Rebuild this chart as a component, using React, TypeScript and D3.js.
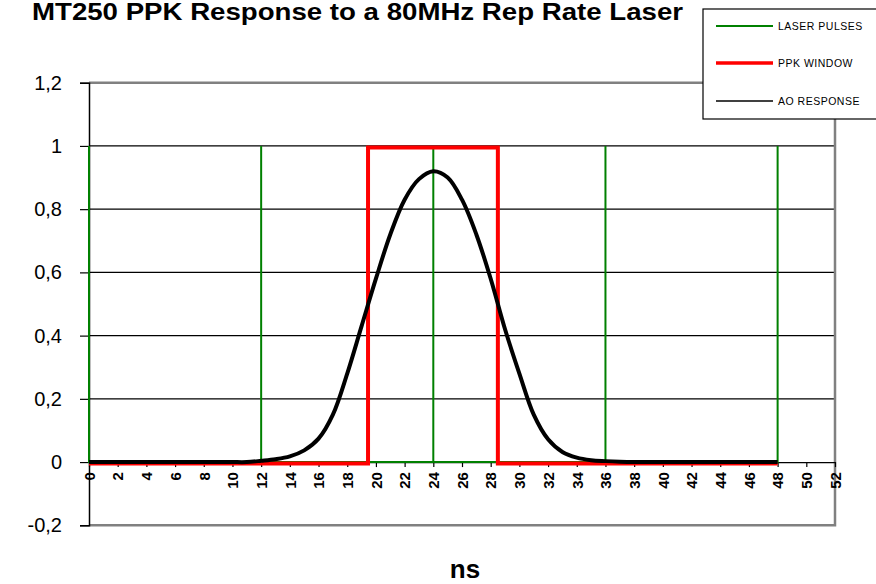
import { useEffect, useRef } from 'react';
import * as d3 from 'd3';

const title = 'MT250 PPK Response to a 80MHz Rep Rate Laser';
const xTitle = 'ns';

const xTicks = [0, 2, 4, 6, 8, 10, 12, 14, 16, 18, 20, 22, 24, 26, 28, 30, 32, 34, 36, 38, 40, 42, 44, 46, 48, 50, 52];
const yTicks = [-0.2, 0, 0.2, 0.4, 0.6, 0.8, 1, 1.2];
const yTickLabels = ['-0,2', '0', '0,2', '0,4', '0,6', '0,8', '1', '1,2'];

// laser pulses: spikes every 12 ns
const laserX = [0, 0, 12, 12, 12, 24, 24, 24, 36, 36, 36, 48, 48, 48];
const laserY = [1, 0, 0, 1, 0, 0, 1, 0, 0, 1, 0, 0, 1, 0];

// PPK window
const ppkX = [0, 19.45, 19.45, 28.5, 28.5, 48];
const ppkY = [0, 0, 1, 1, 0, 0];

// AO response
const aoX = [0, 1, 2, 3, 4, 5, 6, 7, 8, 9, 10, 11, 12, 13, 14, 15, 16, 17, 18, 19, 20, 21, 22, 23, 24,
  25, 26, 27, 28, 29, 30, 31, 32, 33, 34, 35, 36, 37, 38, 39, 40, 41, 42, 43, 44, 45, 46, 47, 48];
const aoY = [0, 0, 0, 0, 0, 0, 0, 0, 0, 0, 0, 0, 0.004, 0.009, 0.018, 0.037, 0.074, 0.15, 0.28, 0.43, 0.58, 0.72, 0.83, 0.895, 0.92,
  0.9, 0.83, 0.72, 0.58, 0.42, 0.28, 0.15, 0.072, 0.032, 0.014, 0.006, 0.003, 0.001, 0, 0, 0, 0, 0, 0, 0, 0, 0, 0, 0];

const legendItems = [
  { label: 'LASER PULSES', color: '#008000', width: 2 },
  { label: 'PPK WINDOW', color: '#ff0000', width: 3.5 },
  { label: 'AO RESPONSE', color: '#000000', width: 1.5 },
];

const App = () => {
  const ref = useRef<SVGSVGElement>(null);

  useEffect(() => {
    const width = 876;
    const height = 584;
    const svg = d3.select(ref.current);
    svg.selectAll('*').remove();
    svg.attr('width', width).attr('height', height);

    const left = 89;
    const right = 835;
    const top = 82.7;
    const bottom = 525.3;

    const x = d3.scaleLinear().domain([0, 52]).range([left, right]);
    const y = d3.scaleLinear().domain([-0.2, 1.2]).range([bottom, top]);
    const font = "'Liberation Sans', Arial, sans-serif";

    svg.append('rect').attr('width', width).attr('height', height).attr('fill', '#fff');

    // title
    svg.append('text')
      .attr('x', 32)
      .attr('y', 20)
      .attr('textLength', 651)
      .attr('lengthAdjust', 'spacingAndGlyphs')
      .attr('font-family', font)
      .attr('font-size', 23)
      .attr('font-weight', 'bold')
      .text(title);

    // grid lines
    svg.append('g')
      .selectAll('line')
      .data(yTicks.filter((d) => d > 0 && d < 1.2))
      .enter()
      .append('line')
      .attr('x1', left)
      .attr('x2', right)
      .attr('y1', (d) => y(d))
      .attr('y2', (d) => y(d))
      .attr('stroke', '#000')
      .attr('stroke-width', 1.2);

    // gray frame
    svg.append('path')
      .attr('d', `M${left},${top}H${right}V${bottom}H${left}`)
      .attr('fill', 'none')
      .attr('stroke', '#808080')
      .attr('stroke-width', 2.5);

    // y axis
    const yAxis = svg.append('g')
      .attr('transform', `translate(${left},0)`)
      .call(
        d3.axisLeft(y)
          .tickValues(yTicks)
          .tickSize(9)
          .tickPadding(18)
          .tickFormat((d, i) => yTickLabels[i])
      );
    yAxis.select('.domain').attr('stroke', '#000').attr('stroke-width', 1.5);
    yAxis.selectAll('line').attr('stroke-width', 1.2);
    yAxis.selectAll('text')
      .attr('font-family', font)
      .attr('font-size', 20)
      .attr('fill', '#000');

    // x axis at zero
    const xAxis = svg.append('g')
      .attr('transform', `translate(0,${y(0)})`)
      .call(d3.axisBottom(x).tickValues(xTicks).tickSize(5).tickSizeOuter(0));
    xAxis.select('.domain').attr('stroke', '#000').attr('stroke-width', 1.2);
    xAxis.selectAll('line').attr('stroke-width', 1.2);
    xAxis.selectAll('text')
      .attr('font-family', font)
      .attr('font-size', 15)
      .attr('font-weight', 'bold')
      .attr('fill', '#000')
      .attr('text-anchor', 'end')
      .attr('dy', '0.35em')
      .attr('y', 0)
      .attr('transform', 'translate(0,10) rotate(-90)');

    const line = d3.line<[number, number]>().x((d) => x(d[0])).y((d) => y(d[1]));

    // laser pulses
    svg.append('path')
      .datum(laserX.map((v, i) => [v, laserY[i]] as [number, number]))
      .attr('d', line)
      .attr('fill', 'none')
      .attr('stroke', '#008000')
      .attr('stroke-width', 2);

    // PPK window
    svg.append('path')
      .datum(ppkX.map((v, i) => [v, ppkY[i]] as [number, number]))
      .attr('d', line)
      .attr('fill', 'none')
      .attr('stroke', '#ff0000')
      .attr('stroke-width', 4)
      .attr('transform', 'translate(0,1.5)');

    // AO response
    const smooth = d3.line<[number, number]>()
      .x((d) => x(d[0]))
      .y((d) => y(d[1]))
      .curve(d3.curveCatmullRom);
    svg.append('path')
      .datum(aoX.map((v, i) => [v, aoY[i]] as [number, number]))
      .attr('d', smooth)
      .attr('fill', 'none')
      .attr('stroke', '#000')
      .attr('stroke-width', 4);

    // axis title
    svg.append('text')
      .attr('x', 465)
      .attr('y', 578)
      .attr('text-anchor', 'middle')
      .attr('font-family', font)
      .attr('font-size', 26)
      .attr('font-weight', 'bold')
      .text(xTitle);

    // legend
    const lg = svg.append('g');
    lg.append('rect')
      .attr('x', 703)
      .attr('y', 9)
      .attr('width', 180)
      .attr('height', 110)
      .attr('fill', '#fff')
      .attr('stroke', '#000')
      .attr('stroke-width', 1.2);
    const rows = [26, 63, 101];
    legendItems.forEach((it, i) => {
      lg.append('line')
        .attr('x1', 716)
        .attr('x2', 773)
        .attr('y1', rows[i])
        .attr('y2', rows[i])
        .attr('stroke', it.color)
        .attr('stroke-width', it.width);
      lg.append('text')
        .attr('x', 778)
        .attr('y', rows[i] + 4)
        .attr('font-family', font)
        .attr('font-size', 10.5)
        .attr('letter-spacing', 0.5)
        .attr('fill', '#000')
        .text(it.label);
    });
  }, []);

  return <svg ref={ref} style={{ position: 'absolute', left: 0, top: 0 }}></svg>;
};

export default App;
